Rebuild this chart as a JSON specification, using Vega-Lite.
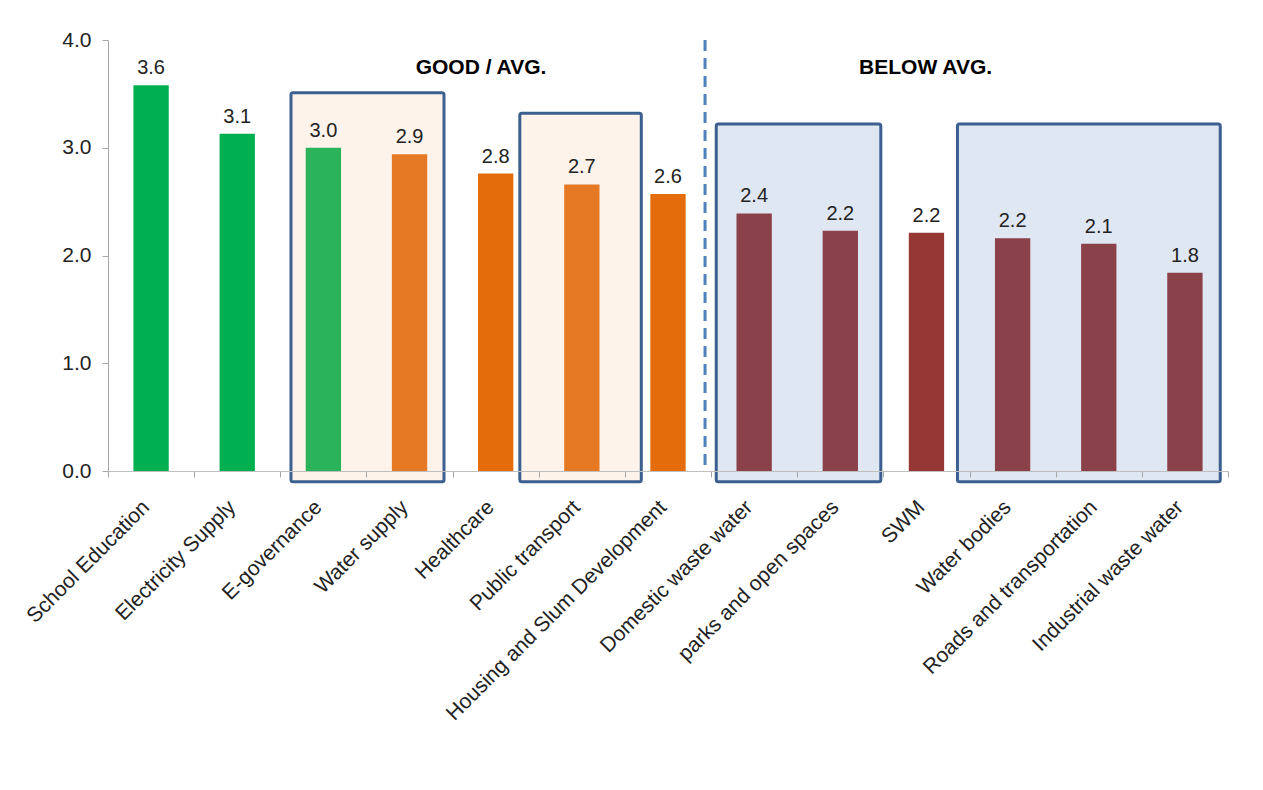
{
  "$schema": "https://vega.github.io/schema/vega-lite/v6.json",
  "width": 1120,
  "height": 431,
  "autosize": "none",
  "padding": {"left": 108, "top": 40, "right": 35, "bottom": 319},
  "background": "white",
  "config": {
    "view": {"stroke": null},
    "font": "Liberation Sans",
    "axis": {"grid": false, "title": null, "domainColor": "#A6A6A6", "tickColor": "#A6A6A6", "labelColor": "#222222", "labelFont": "Liberation Sans"},
    "axisY": {"labelFontSize": 21, "tickSize": 6, "labelPadding": 11},
    "axisX": {"labelFontSize": 21, "labelAngle": -45, "labelAlign": "right", "tickBand": "extent", "tickSize": 6, "labelPadding": 19, "labelOffset": -13, "labelLimit": 0, "domainColor": "#BFBFBF"}
  },
  "datasets": {
    "scores": [
      {"service": "School Education", "score": 3.58, "tier": "good"},
      {"service": "Electricity Supply", "score": 3.13, "tier": "good"},
      {"service": "E-governance", "score": 3.0, "tier": "good-boxed"},
      {"service": "Water supply", "score": 2.94, "tier": "avg-boxed"},
      {"service": "Healthcare", "score": 2.76, "tier": "avg"},
      {"service": "Public transport", "score": 2.66, "tier": "avg-boxed"},
      {"service": "Housing and Slum Development", "score": 2.57, "tier": "avg"},
      {"service": "Domestic waste water", "score": 2.39, "tier": "below-boxed"},
      {"service": "parks and open spaces", "score": 2.23, "tier": "below-boxed"},
      {"service": "SWM", "score": 2.21, "tier": "below"},
      {"service": "Water bodies", "score": 2.16, "tier": "below-boxed"},
      {"service": "Roads and transportation", "score": 2.11, "tier": "below-boxed"},
      {"service": "Industrial waste water", "score": 1.84, "tier": "below-boxed"}
    ]
  },
  "layer": [
    {
      "data": {"values": [{"from": "E-governance", "to": "Water supply", "top": 3.51, "bottom": -0.1}]},
      "mark": {"type": "rect", "fill": "#FDF3EA", "stroke": "#3B5F8F", "strokeWidth": 3, "cornerRadius": 2},
      "encoding": {
        "x": {"field": "from", "type": "nominal", "bandPosition": 0.124, "title": null, "scale": {"domain": ["School Education", "Electricity Supply", "E-governance", "Water supply", "Healthcare", "Public transport", "Housing and Slum Development", "Domestic waste water", "parks and open spaces", "SWM", "Water bodies", "Roads and transportation", "Industrial waste water"], "paddingInner": 0, "paddingOuter": 0}},
        "x2": {"field": "to", "bandPosition": 0.9},
        "y": {"field": "top", "type": "quantitative", "title": null, "scale": {"domain": [0, 4], "nice": false}, "axis": {"values": [0, 1, 2, 3, 4], "format": ".1f"}},
        "y2": {"field": "bottom"}
      }
    },
    {
      "data": {"values": [{"from": "Healthcare", "to": "Housing and Slum Development", "top": 3.32, "bottom": -0.1}]},
      "mark": {"type": "rect", "fill": "#FDF3EA", "stroke": "#3B5F8F", "strokeWidth": 3, "cornerRadius": 2},
      "encoding": {
        "x": {"field": "from", "type": "nominal", "bandPosition": 0.78, "title": null},
        "x2": {"field": "to", "bandPosition": 0.19},
        "y": {"field": "top", "type": "quantitative", "title": null},
        "y2": {"field": "bottom"}
      }
    },
    {
      "data": {"values": [{"from": "Domestic waste water", "to": "parks and open spaces", "top": 3.22, "bottom": -0.1}]},
      "mark": {"type": "rect", "fill": "#DFE7F2", "stroke": "#3B5F8F", "strokeWidth": 3, "cornerRadius": 2},
      "encoding": {
        "x": {"field": "from", "type": "nominal", "bandPosition": 0.06, "title": null},
        "x2": {"field": "to", "bandPosition": 0.97},
        "y": {"field": "top", "type": "quantitative", "title": null},
        "y2": {"field": "bottom"}
      }
    },
    {
      "data": {"values": [{"from": "SWM", "to": "Industrial waste water", "top": 3.22, "bottom": -0.1}]},
      "mark": {"type": "rect", "fill": "#DFE7F2", "stroke": "#3B5F8F", "strokeWidth": 3, "cornerRadius": 2},
      "encoding": {
        "x": {"field": "from", "type": "nominal", "bandPosition": 0.86, "title": null},
        "x2": {"field": "to", "bandPosition": 0.91},
        "y": {"field": "top", "type": "quantitative", "title": null},
        "y2": {"field": "bottom"}
      }
    },
    {
      "data": {"name": "scores"},
      "mark": {"type": "bar", "width": {"band": 0.41}},
      "encoding": {
        "x": {"field": "service", "type": "nominal", "title": null},
        "y": {"field": "score", "type": "quantitative", "title": null},
        "color": {"field": "tier", "type": "nominal", "legend": null, "scale": {"domain": ["good", "good-boxed", "avg", "avg-boxed", "below", "below-boxed"], "range": ["#00B050", "#2BB35C", "#E46C0A", "#E67A24", "#953735", "#8B414A"]}}
      }
    },
    {
      "data": {"name": "scores"},
      "mark": {"type": "text", "baseline": "bottom", "dy": -7, "fontSize": 20, "color": "#222222"},
      "encoding": {
        "x": {"field": "service", "type": "nominal", "title": null},
        "y": {"field": "score", "type": "quantitative", "title": null},
        "text": {"field": "score", "type": "quantitative", "format": ".1f"}
      }
    },
    {
      "data": {"values": [{"divider": "Housing and Slum Development"}]},
      "mark": {"type": "rule", "stroke": "#4F81BD", "strokeWidth": 3, "strokeDash": [11, 7]},
      "encoding": {
        "x": {"field": "divider", "type": "nominal", "bandPosition": 0.93, "title": null},
        "y": {"datum": 4, "type": "quantitative"},
        "y2": {"datum": 0}
      }
    },
    {
      "data": {"values": [{"label": "GOOD / AVG.", "at": "Healthcare", "level": 3.74}]},
      "mark": {"type": "text", "fontSize": 21, "fontWeight": "bold", "baseline": "middle", "color": "#000000"},
      "encoding": {
        "x": {"field": "at", "type": "nominal", "bandPosition": 0.33, "title": null},
        "y": {"field": "level", "type": "quantitative", "title": null},
        "text": {"field": "label"}
      }
    },
    {
      "data": {"values": [{"label": "BELOW AVG.", "at": "SWM", "level": 3.74}]},
      "mark": {"type": "text", "fontSize": 21, "fontWeight": "bold", "baseline": "middle", "color": "#000000"},
      "encoding": {
        "x": {"field": "at", "type": "nominal", "bandPosition": 0.49, "title": null},
        "y": {"field": "level", "type": "quantitative", "title": null},
        "text": {"field": "label"}
      }
    }
  ]
}
